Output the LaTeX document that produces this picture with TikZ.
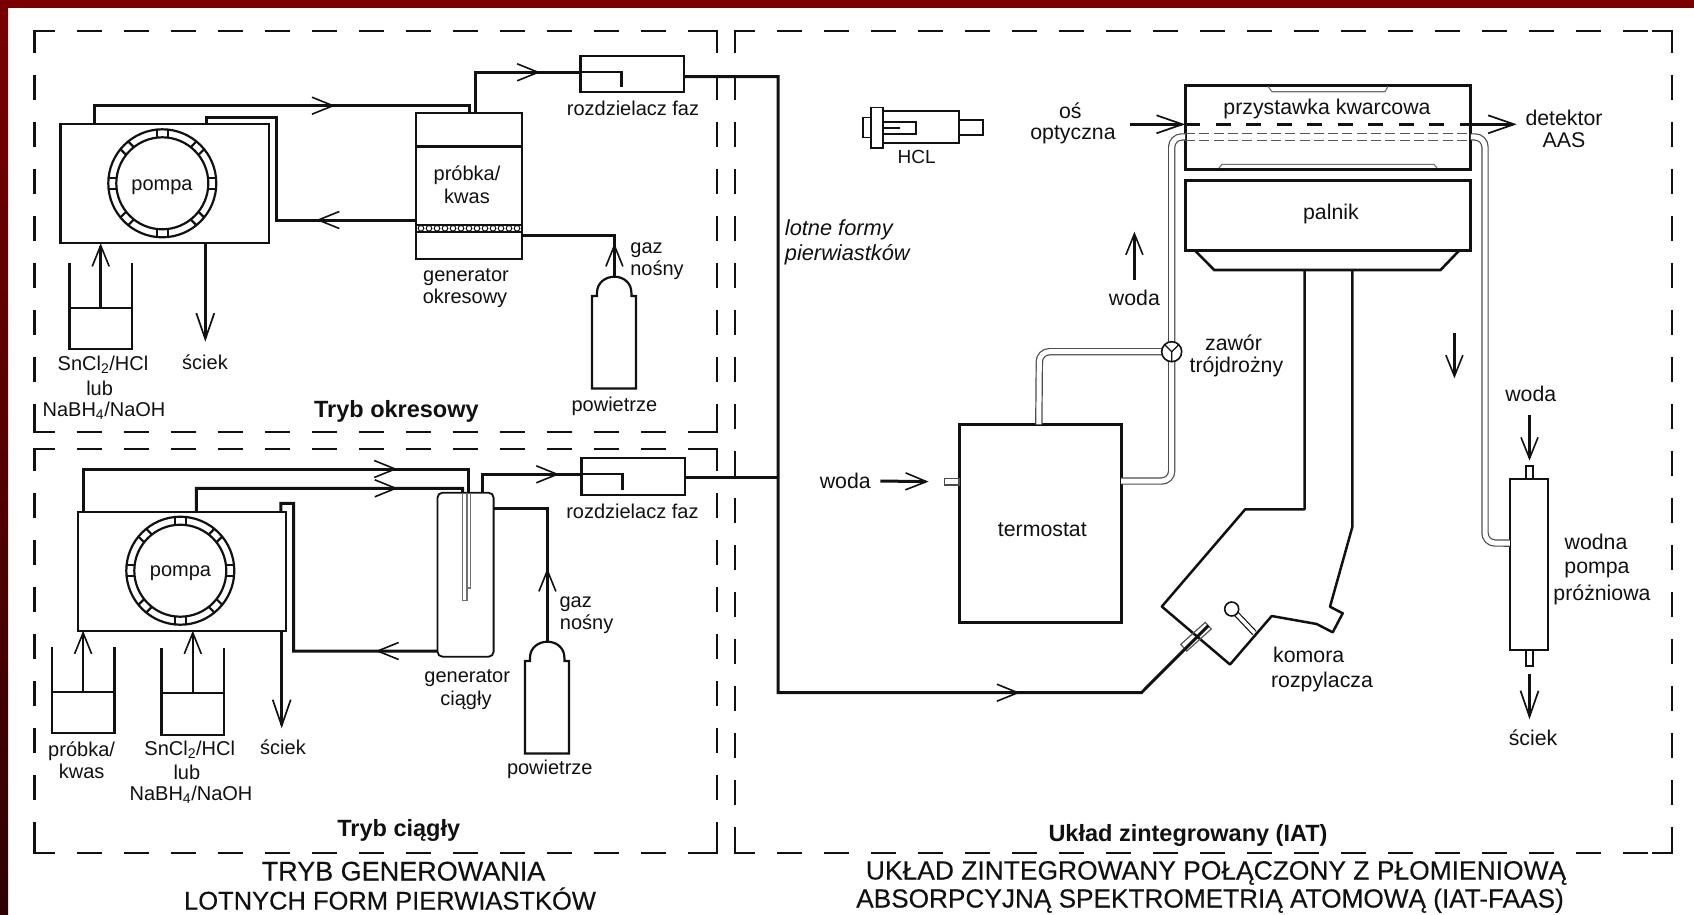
\documentclass[tikz,border=0pt]{standalone}
\usepackage{fontspec}
\setmainfont{Liberation Sans}
\newfontfamily\titlefont[FakeBold=0.2]{Liberation Sans}
\usetikzlibrary{arrows.meta,decorations.markings}
\definecolor{ink}{HTML}{111111}
\definecolor{frametop}{HTML}{7A0000}
\definecolor{framemid}{HTML}{B80000}
\definecolor{framelow}{HTML}{300000}
\newcommand{\boxat}[6][]{%
  \pgfmathsetmacro\bxw{#5-#3}\pgfmathsetmacro\bxh{#6-#4}%
  \node[unit,#1,minimum width=\bxw pt,minimum height=\bxh pt] (#2) at ({(#3+#5)/2},{(#4+#6)/2}) {};}
\newcommand{\dashframe}[4]{%
  \draw[frameline,dashon] (#1+20,#2) -- (#3-20,#2);
  \draw[frameline,dashon] (#1+20,#4) -- (#3-20,#4);
  \draw[frameline,dashon] (#1,#2+22) -- (#1,#4-22);
  \draw[frameline,dashon] (#3,#2+22) -- (#3,#4-22);
  \draw[frameline] (#1,#2+22) -- (#1,#2) -- (#1+20,#2);
  \draw[frameline] (#3-20,#2) -- (#3,#2) -- (#3,#2+22);
  \draw[frameline] (#1,#4-22) -- (#1,#4) -- (#1+20,#4);
  \draw[frameline] (#3-20,#4) -- (#3,#4) -- (#3,#4-22);}
\newcommand{\mylab}[3]{\node[lab] (#1) at (#2) {#3};}
\newcommand{\mylabr}[3]{\node[lab,labr] (#1) at (#2) {#3};}
\tikzset{
  x=1pt,y=-1pt,
  >={Straight Barb[length=21pt,width=17pt,line width=1.6pt]},
  unit/.style={draw=ink,line width=2.3pt,inner sep=0,outer sep=0},
  lab/.style={inner sep=0,text=ink,text height=16.5pt,text depth=2.5pt,font=\fontsize{20}{22}\selectfont},
  labr/.style={font=\fontsize{21.3}{23}\selectfont},
  boldlab/.style={lab,text height=18.5pt,text depth=3.5pt,font=\fontsize{23.5}{26}\selectfont\bfseries},
  titlelab/.style={lab,text height=19pt,text depth=0pt},
  frameline/.style={draw=ink,line width=2.2pt},
  dashon/.style={dash pattern=on 25pt off 22pt,dash phase=25pt},
  pipe/.style={draw=ink,line width=3pt,line join=miter},
  wire/.style={draw=ink,line width=2.2pt},
  stem/.style={draw=ink,line width=2.6pt},
  bigtip/.style={-{Straight Barb[length=26pt,width=18pt,line width=1.7pt]}},
  flowat/.style={postaction={decorate},decoration={markings,mark=at position #1 with {\arrow{>}}}},
  wtube/.style={draw=ink!75,line width=1.2pt,double=white,double distance=5pt,rounded corners=10pt},
  wdash/.style={draw=ink!70,line width=1.2pt,dash pattern=on 10pt off 4.3pt},
  thinpart/.style={draw=ink!60,line width=1.1pt},
  gasbottle/.pic={
    \coordinate (-top) at (0,0);
    \draw[wire] (-22.4,111.7) -- (-22.4,19.3) -- (-17.4,19.3) -- (-17.4,16)
      .. controls (-17.4,6) and (-9,0) .. (0,0)
      .. controls (9,0) and (17,6) .. (17,16) -- (17,19.3) -- (21.6,19.3) -- (21.6,111.7) -- cycle;
  },
  beaker/.pic={
    \coordinate (-liq) at (0,0);
    \draw[wire] (-31.3,-45) -- (-31.3,41.6) -- (31.3,41.6) -- (31.3,-45);
    \draw[wire] (-31.3,0) -- (31.3,0);
  },
  pumpring/.pic={
    \draw[wire] (0,0) circle[radius=54];
    \draw[wire] (0,0) circle[radius=46];
    \foreach \a in {0,45,...,315}{
      \draw[wire,rotate=\a] (46,-5.5) -- (54,-5.5) (46,5.5) -- (54,5.5);
    }
  }
}
\begin{document}
\begin{tikzpicture}
\useasboundingbox (0,0) rectangle (1694,914);
\fill[white] (0,0) rectangle (1694,914);
\shade[top color=frametop,middle color=framemid,bottom color=framelow] (0,0) rectangle (8,914);
\fill[frametop] (0,0) rectangle (1694,8);

% dashed frames
\dashframe{34.5}{30.7}{717}{431.7}
\dashframe{34.5}{449}{717}{852.7}
\dashframe{735}{30.7}{1672}{852.7}

% ---------- periodic mode
\boxat{pumpA}{60.4}{124}{269}{243.3}
\pic at (162.3,183.3) {pumpring};
\mylab{pompaA}{162,183}{pompa}
\boxat{genA}{416.2}{112.7}{522}{258.7}
\draw[line width=3pt,draw=ink] (genA.west |- 0,146.7) -- (genA.east |- 0,146.7);
\draw[wire] (genA.west |- 0,225) -- (genA.east |- 0,225);
\draw[wire] (genA.west |- 0,231.7) -- (genA.east |- 0,231.7);
\foreach \i in {0,...,12}{\draw[draw=ink,line width=1pt] (421+\i*8,228.3) circle[radius=2.8];}
\boxat{sepA}{580.4}{55.7}{684.3}{92}
\pic (bottleA) at (614.4,276.7) {gasbottle};
\pic (beakerA) at (100.7,307.7) {beaker};

\draw[pipe,flowat=259pt] ([xshift=34pt]pumpA.north west) -- ++(0,-18.3) -- ++(375.2,0) -- ([xshift=53.4pt]genA.north west);
\draw[pipe,flowat=100pt] (genA.west |- 0,220) -- ++(-140.2,0) -- ++(0,-102.3) -- ++(-69.3,0) -- ([xshift=146.3pt]pumpA.north west);
\draw[pipe,flowat=105pt] ([xshift=59.5pt]genA.north west) -- ++(0,-40.4) -- (sepA.west |- 0,72.3);
\draw[wire] (sepA.west |- 0,72.3) -- (621.5,72.3) -- (621.5,87.3);
\draw[pipe,flowat=33.4pt] (bottleA-top) -- ++(0,-41.4) -- (genA.east |- 0,235.3);
\draw[stem,->] (beakerA-liq) -- (pumpA.south west -| beakerA-liq);
\draw[stem,bigtip] ([xshift=144.9pt]pumpA.south west) -- ++(0,98.4);

\mylab{prA}{467,173}{próbka/}
\mylab{kwA}{467,196}{kwas}
\mylab{rfA}{633,108}{rozdzielacz faz}
\mylab{gzA}{646.5,246.7}{gaz}
\mylab{nsA}{657,268}{nośny}
\mylab{pwA}{614.4,404}{powietrze}
\mylab{geA}{466,274}{generator}
\mylab{okA}{465,296.7}{okresowy}
\mylab{snA}{103,363}{SnCl\textsubscript{2}/HCl}
\mylab{luA}{99.6,388}{lub}
\mylab{naA}{104,409}{NaBH\textsubscript{4}/NaOH}
\mylab{scA}{205,362}{ściek}
\node[boldlab] (modeA) at (396.4,410) {Tryb okresowy};

% ---------- continuous mode
\boxat{pumpB}{77.9}{511.7}{286}{630.7}
\pic at (180.3,570.7) {pumpring};
\mylab{pompaB}{180.5,569}{pompa}
\boxat[rounded corners=5pt,line width=1.8pt]{genB}{437.5}{492.7}{493.6}{656.7}
\draw[thinpart] (462.5,492.7) -- (462.5,600.7) -- (467,600.7) -- (467,492.7);
\draw[thinpart] (470.5,492.7) -- (470.5,588) -- (467,588);
\boxat{sepB}{581.4}{458.3}{685.2}{495}
\pic (bottleB) at (547.4,641.7) {gasbottle};
\pic (beakerC) at (83.1,691.7) {beaker};
\pic (beakerD) at (192.8,693.3) {beaker};

\draw[pipe,flowat=357pt] ([xshift=5.1pt]pumpB.north west) -- ++(0,-42.7) -- ++(385.6,0) -- ([xshift=31.1pt]genB.north west);
\draw[pipe,flowat=225pt] ([xshift=118.4pt]pumpB.north west) -- ++(0,-23.4) -- ++(266.2,0) -- ([xshift=25pt]genB.north west);
\draw[pipe,flowat=62pt] (genB.west |- 0,651) -- ++(-144,0) -- ++(0,-147.7) -- ++(-12.7,0) -- ([xshift=202.9pt]pumpB.north west);
\draw[pipe,flowat=95pt] ([xshift=45.3pt]genB.north west) -- ++(0,-18.4) -- (sepB.west |- 0,474.3);
\draw[wire] (sepB.west |- 0,474.3) -- (622.5,474.3) -- (622.5,490);
\draw[pipe,flowat=73.4pt] (bottleB-top) -- ++(0,-133.4) -- (genB.east |- 0,508.3);
\draw[stem,->] (beakerC-liq) -- (pumpB.south west -| beakerC-liq);
\draw[stem,->] (beakerD-liq) -- (pumpB.south west -| beakerD-liq);
\draw[stem,bigtip] ([xshift=203.8pt]pumpB.south west) -- ++(0,97.6);

\mylab{rfB}{632.4,511}{rozdzielacz faz}
\mylab{gzB}{575.7,600}{gaz}
\mylab{nsB}{586.6,622.7}{nośny}
\mylab{pwB}{549.8,767.7}{powietrze}
\mylab{geB}{467.2,675.7}{generator}
\mylab{ciB}{466,698.3}{ciągły}
\mylab{prB}{81.6,749.3}{próbka/}
\mylab{kwB}{81.6,771.7}{kwas}
\mylab{snB}{189.7,748.3}{SnCl\textsubscript{2}/HCl}
\mylab{luB}{186.9,772.7}{lub}
\mylab{naB}{191,793.3}{NaBH\textsubscript{4}/NaOH}
\mylab{scB}{283,747.7}{ściek}
\node[boldlab] (modeB) at (398.8,829.3) {Tryb ciągły};
\node[titlelab,font=\titlefont\fontsize{27}{30}\selectfont] (titleA1) at (403.5,871) {TRYB GENEROWANIA};
\node[titlelab,font=\titlefont\fontsize{25.5}{30}\selectfont] (titleA2) at (390,900) {LOTNYCH FORM PIERWIASTKÓW};

% ---------- integrated system
\boxat[line width=1.6pt]{hclbody}{883}{110.7}{959}{142.7}
\boxat[line width=1.6pt]{hclnose}{959}{120}{982.7}{135}
\boxat[line width=1.6pt]{hclback}{862.7}{117.3}{871}{137.3}
\boxat[line width=1.6pt,fill=white]{hclflange}{871}{107.3}{882.7}{147.7}
\boxat[line width=1.6pt]{hclinner}{882.7}{121.7}{916}{134}
\draw[draw=ink,line width=2pt] (hclinner.west) -- ++(17.3,0);
\mylabr{hcl}{916.7,156.7}{\fontsize{19}{21}\selectfont HCL}
\mylabr{osA}{1070.3,111.7}{oś}
\mylabr{osB}{1073,132.7}{optyczna}

% water circuit
\boxat[line width=3pt]{termo}{959}{424.3}{1121}{622.3}
\boxat{vac}{1509.8}{479.3}{1548.3}{650}
\boxat[line width=3pt]{adapter}{1185.1}{85}{1470.8}{169.5}
\boxat[line width=3pt]{burner}{1185.1}{180}{1470.8}{250.7}
\coordinate (valvePt) at (1171.7,351.7);
\draw[wtube] ([yshift=42.3pt]termo.east) -- (1171.7,481) -- (1171.7,137) -- ([yshift=-9.7pt]adapter.west);
\draw[wtube] ([yshift=-9.7pt]adapter.east) -- (1485,137) -- (1485,543) -- ([yshift=21.6pt]vac.west);
\draw[wtube] ([xshift=-0.6pt]termo.north -| 1039.4,0) -- (1039.4,351.7) -- (valvePt);
\node[circle,unit,line width=1.6pt,fill=white,minimum size=20pt] (valve) at (valvePt) {};
\draw[draw=ink,line width=1.3pt] (valve.center) -- (valve.135) (valve.center) -- (valve.45) (valve.center) -- (valve.270);
\draw[wdash] ([yshift=-6pt]adapter.west) -- ([yshift=-6pt]adapter.east);
\draw[wdash] ([yshift=-13.3pt]adapter.west) -- ([yshift=-13.3pt]adapter.east);
\draw[thinpart] (1268,86.5) -- (1272,91.7) -- (1385,91.7) -- (1388,86.5);
\draw[thinpart] (1219,168) -- (1222,164.3) -- (1434,164.3) -- (1437,168);
\draw[line width=3pt,draw=ink,dash pattern=on 15pt off 15.5pt] (adapter.west |- 0,124.3) -- (adapter.east |- 0,124.3);
\coordinate (axisIn) at (1129.8,124.3);
\coordinate (axisOut) at (1516.7,124.3);
\draw[stem,bigtip] (axisIn) -- (adapter.west |- axisIn);
\draw[stem,bigtip] (adapter.east |- axisOut) -- (axisOut);

\mylabr{qz}{1327,107.7}{przystawka kwarcowa}
\mylabr{paln}{1330.9,212.7}{palnik}
\mylabr{detA}{1564,118}{detektor}
\mylabr{detB}{1564,140.7}{AAS}
\node[lab,anchor=west,font=\fontsize{21.8}{24}\selectfont\itshape] (lfA) at (784.7,228) {lotne formy};
\node[lab,anchor=west,font=\fontsize{21.8}{24}\selectfont\itshape] (lfB) at (784.7,253) {pierwiastków};

% burner head and chamber
\draw[draw=ink,line width=2.6pt] ([xshift=10pt]burner.south west) -- (1214.3,270) -- (1440.5,270) -- ([xshift=-11.8pt]burner.south east);
\coordinate (neckL) at (1304.6,270);
\coordinate (neckR) at (1352.4,270);
\draw[draw=ink,line width=2.5pt,line join=round] (neckL) -- (1304.6,509.3) -- (1245.2,509.3) -- (1161.8,606.5) -- (1230,664.5) -- (1271.7,616) -- (1316.7,624) -- (1332.7,632.3) -- (1342.7,613.3) -- (1330,606.7) -- (1352.4,526.7) -- (neckR);
\node[draw=ink!70,line width=1.2pt,inner sep=0,outer sep=0,rotate=42,minimum width=33pt,minimum height=9pt] (neb) at (1196,636.7) {};
\draw[pipe,flowat=951.7pt] (sepA.east |- 0,76.7) -- (778,76.7) -- (778,692.7) -- (1141.4,692.7) -- (neb.east);
\draw[pipe] (sepB.east |- 0,477.3) -- (778,477.3);
\coordinate (beadPt) at (1231.7,609);
\coordinate (stemEnd) at (1254.5,633);
\draw[draw=ink,line width=1.2pt,double=white,double distance=3.5pt] (beadPt) -- (stemEnd);
\node[circle,unit,line width=1.6pt,fill=white,minimum size=14pt] (bead) at (beadPt) {};
\mylabr{komA}{1308.7,655}{komora}
\mylabr{komB}{1322,680}{rozpylacza}

% thermostat and water labels
\boxat[line width=1.4pt,draw=ink!75]{stub}{944.4}{478.3}{959}{485}
\mylabr{term}{1042.3,529}{termostat}
\mylabr{wIn}{845.3,481}{woda}
\coordinate (wInA) at (880.3,481);
\draw[pipe,->] (wInA) -- ([xshift=-15.8pt]stub.west);
\mylabr{wUp}{1134.4,298.3}{woda}
\coordinate (wUpA) at (1134.4,280);
\coordinate (wUpB) at (1134.4,231.7);
\draw[stem,->] (wUpA) -- (wUpB);
\coordinate (dnA) at (1454.4,332.7);
\coordinate (dnB) at (1454.4,378.3);
\draw[stem,->] (dnA) -- (dnB);
\mylabr{zwA}{1233.5,343.3}{zawór}
\mylabr{zwB}{1236.4,365}{trójdrożny}

% water pump
\boxat[line width=1.5pt]{vacTop}{1526}{466}{1533}{479.3}
\boxat[line width=1.5pt]{vacLow}{1526}{650}{1533}{666}
\mylabr{wDn}{1530.8,394.3}{woda}
\coordinate (wDnA) at (1529.5,415);
\draw[stem,->] (wDnA) -- ([yshift=5.5pt]vacTop.north);
\coordinate (wstB) at (1529.5,719.3);
\draw[stem,bigtip] ([yshift=-8pt]vacLow.south) -- (wstB);
\mylabr{scC}{1533,738.3}{ściek}
\mylabr{wpA}{1596,542.3}{wodna}
\mylabr{wpB}{1597,566.7}{pompa}
\mylabr{wpC}{1602,593.3}{próżniowa}

\node[boldlab] (modeC) at (1188,834) {Układ zintegrowany (IAT)};
\node[titlelab,font=\titlefont\fontsize{26.4}{30}\selectfont] (titleC1) at (1216,870) {UKŁAD ZINTEGROWANY POŁĄCZONY Z PŁOMIENIOWĄ};
\node[titlelab,font=\titlefont\fontsize{26.2}{30}\selectfont] (titleC2) at (1210,898) {ABSORPCYJNĄ SPEKTROMETRIĄ ATOMOWĄ (IAT-FAAS)};
\end{tikzpicture}
\end{document}
